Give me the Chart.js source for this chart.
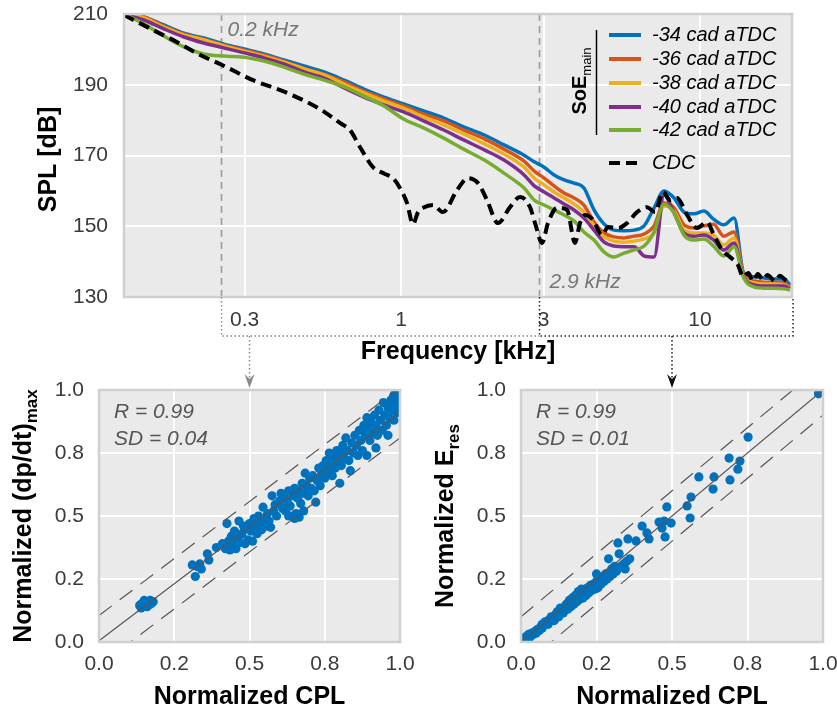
<!DOCTYPE html>
<html>
<head>
    <title>SPL spectra and correlations</title>
    <style>
        body { margin: 0; background: #fff; }
        #figure { position: relative; width: 837px; height: 712px; }
        #figure canvas { position: absolute; }
    </style>
</head>
<body>
<div id="figure">
    <canvas id="dpdtChart" width="420" height="352" style="left:0;top:360px"></canvas>
    <canvas id="eresChart" width="417" height="352" style="left:420px;top:360px"></canvas>
    <canvas id="splChart" width="837" height="395" style="left:0;top:0"></canvas>
</div>
<script src="https://cdn.jsdelivr.net/npm/chart.js"></script>
<script>
    // ---------- top panel: SPL spectra ----------
    // frequency grid [kHz] shared by the five SoE spectra
    var freqKHz = [0.1185, 0.138, 0.161, 0.188, 0.219, 0.256, 0.299, 0.348, 0.406, 0.474,
        0.553, 0.645, 0.752, 0.877, 1.02, 1.19, 1.39, 1.62, 1.9, 2.21,
        2.58, 2.79, 3.01, 3.25, 3.51, 3.79, 4.09, 4.42, 4.78, 5.16,
        5.57, 6.02, 6.5, 7.02, 7.58, 8.19, 8.84, 9.55, 10.3, 11.1,
        12.0, 13.0, 14.0, 15.2, 16.4, 17.7, 19.1, 20.0];

    var splSoE34 = [210.0, 209.2, 206.9, 204.6, 203.2, 201.5, 200.1, 198.7, 197.0, 195.3,
        193.6, 191.3, 188.8, 186.5, 184.6, 182.6, 180.6, 178.1, 175.8, 173.0,
        170.1, 168.2, 166.7, 164.5, 163.1, 162.2, 160.8, 154.6, 150.6, 148.9,
        148.7, 148.9, 150.1, 155.2, 160.0, 158.0, 154.0, 153.5, 154.3, 152.0,
        150.4, 152.3, 136.8, 135.7, 135.4, 135.1, 135.1, 133.4];
    var splSoE36 = [210.0, 209.2, 206.6, 204.3, 202.9, 201.2, 199.8, 198.4, 196.7, 194.7,
        193.0, 190.8, 188.2, 186.0, 184.0, 181.7, 179.8, 177.2, 174.7, 171.8,
        168.4, 165.6, 163.6, 161.4, 159.4, 158.0, 156.0, 151.2, 148.1, 147.0,
        146.7, 147.2, 147.8, 150.1, 156.6, 155.2, 150.4, 149.5, 150.1, 150.6,
        147.2, 148.4, 136.2, 134.5, 134.2, 134.2, 134.0, 132.8];
    var splSoE38 = [210.0, 208.9, 206.3, 204.1, 202.7, 201.0, 199.5, 198.1, 196.4, 194.5,
        192.8, 190.2, 187.7, 185.4, 183.4, 180.9, 178.6, 176.1, 173.3, 170.4,
        166.7, 163.6, 161.7, 159.7, 158.0, 156.3, 154.0, 150.1, 147.0, 145.8,
        145.5, 145.8, 146.4, 148.1, 155.7, 154.3, 148.9, 148.1, 148.1, 147.5,
        144.7, 146.7, 135.9, 134.0, 133.7, 133.7, 133.4, 132.5];
    var splSoE40 = [210.0, 208.3, 205.8, 203.5, 201.8, 200.4, 199.0, 197.6, 195.9, 193.6,
        191.9, 189.1, 186.5, 184.3, 182.3, 179.8, 177.2, 174.4, 171.6, 168.7,
        164.5, 161.4, 159.7, 158.0, 156.3, 154.6, 152.3, 148.9, 145.5, 144.4,
        144.2, 144.2, 141.6, 141.3, 158.8, 153.7, 148.1, 147.2, 147.5, 146.1,
        143.3, 145.3, 135.7, 133.4, 133.1, 133.1, 133.1, 132.3];
    var splSoE42 = [210.0, 207.2, 203.8, 200.7, 198.7, 198.1, 197.8, 196.7, 195.0, 193.0,
        191.3, 189.4, 186.8, 184.0, 180.3, 177.8, 174.9, 171.8, 168.7, 165.0,
        160.8, 157.4, 156.0, 154.6, 153.2, 151.5, 148.4, 146.1, 142.7, 141.3,
        142.4, 143.3, 144.4, 148.4, 156.3, 153.7, 147.5, 146.1, 146.4, 144.4,
        141.6, 144.2, 135.4, 132.8, 132.5, 132.5, 132.3, 132.0];

    // CDC reference spectrum has its own frequency points
    var cdcFreqKHz = [0.1185, 0.148, 0.178, 0.213, 0.252, 0.32, 0.416, 0.536, 0.625, 0.675,
        0.729, 0.806, 0.884, 0.94, 0.992, 1.047, 1.097, 1.14, 1.185, 1.279,
        1.382, 1.539, 1.675, 1.809, 1.939, 2.11, 2.315, 2.5, 2.7, 2.807,
        2.962, 3.101, 3.325, 3.592, 3.818, 3.968, 4.124, 4.387, 4.701, 4.924,
        5.318, 5.7, 6.157, 6.647, 7.071, 7.52, 7.938, 8.379, 9.047, 9.772,
        10.55, 11.05, 11.85, 12.6, 13.4, 13.93, 14.5, 15.04, 15.6, 16.24,
        16.8, 17.81, 18.5, 19.3, 20.0];
    var splCdc = [209.7, 205.5, 202.1, 198.4, 195.6, 191.3, 187.7, 183.1, 179.2, 177.2,
        172.4, 166.7, 164.8, 163.6, 160.8, 156.6, 150.6, 154.0, 155.2, 156.0,
        154.0, 160.2, 163.6, 162.2, 157.4, 150.9, 155.4, 158.3, 155.4, 150.9,
        145.3, 150.9, 155.2, 154.6, 145.3, 150.9, 153.2, 151.8, 147.5, 149.8,
        149.5, 150.9, 154.0, 155.4, 154.0, 159.7, 157.4, 158.0, 153.2, 149.5,
        151.2, 148.1, 143.3, 141.3, 139.0, 135.7, 136.8, 134.5, 136.5, 134.8,
        136.2, 134.5, 136.0, 134.8, 134.2];

    var soeLabels = ['-34 cad aTDC', '-36 cad aTDC', '-38 cad aTDC', '-40 cad aTDC', '-42 cad aTDC'];
    var soeColors = ['#0072BD', '#D95319', '#EDB120', '#7E2F8E', '#77AC30'];
    var splTicks = [130, 150, 170, 190, 210];
    var freqTicks = [0.3, 1, 3, 10];
    var markerFreqs = [0.25, 2.9];
    var markerLabels = ['0.2 kHz', '2.9 kHz'];

    // ---------- bottom panels: correlations ----------
    var normTickValues = [0, 0.25, 0.5, 0.75, 1];
    var normTickLabels = ['0.0', '0.2', '0.5', '0.8', '1.0'];

    var dpdtCpl = [0.135, 0.14, 0.145, 0.15, 0.155, 0.16, 0.165, 0.17, 0.175, 0.18, 0.15, 0.14, 0.16, 0.17,
        0.31, 0.32, 0.325, 0.335, 0.34, 0.36, 0.365, 0.39,
        0.41, 0.42, 0.425, 0.43, 0.435, 0.44, 0.445, 0.45, 0.455, 0.46, 0.465, 0.47, 0.475, 0.48, 0.485, 0.49, 0.495, 0.5,
        0.505, 0.51, 0.515, 0.52, 0.525, 0.53, 0.535, 0.54, 0.545, 0.55, 0.555, 0.56, 0.565, 0.57, 0.575, 0.58, 0.585, 0.59,
        0.6, 0.605, 0.61, 0.615, 0.62, 0.625, 0.63, 0.63, 0.635, 0.64, 0.645, 0.65, 0.65, 0.655, 0.66, 0.665, 0.665, 0.67, 0.675, 0.68,
        0.68, 0.685, 0.69, 0.695, 0.7, 0.705, 0.71, 0.715, 0.72, 0.725, 0.73, 0.735, 0.74, 0.745, 0.75, 0.755, 0.76, 0.765, 0.77, 0.775,
        0.78, 0.785, 0.79, 0.795, 0.8, 0.8, 0.805, 0.81, 0.815, 0.82, 0.825, 0.83, 0.835, 0.84, 0.845, 0.85, 0.855, 0.86, 0.865, 0.87,
        0.875, 0.88, 0.885, 0.89, 0.89, 0.895, 0.9, 0.905, 0.91, 0.915, 0.92, 0.92, 0.925, 0.93, 0.935, 0.94, 0.945, 0.95, 0.955, 0.96,
        0.96, 0.965, 0.97, 0.975, 0.98, 0.98, 0.985, 0.99, 0.99, 0.995, 0.995];
    var dpdtNorm = [0.145, 0.15, 0.14, 0.155, 0.145, 0.15, 0.16, 0.15, 0.155, 0.16, 0.165, 0.135, 0.14, 0.165,
        0.306, 0.26, 0.3, 0.31, 0.29, 0.35, 0.325, 0.375,
        0.39, 0.37, 0.47, 0.4, 0.365, 0.42, 0.385, 0.44, 0.37, 0.41, 0.48, 0.395, 0.43, 0.46, 0.39, 0.45, 0.405, 0.47,
        0.44, 0.4, 0.49, 0.46, 0.43, 0.5, 0.47, 0.445, 0.535, 0.49, 0.46, 0.51, 0.48, 0.455, 0.58, 0.52, 0.545, 0.5,
        0.56, 0.59, 0.53, 0.575, 0.52, 0.56, 0.6, 0.5, 0.54, 0.5, 0.58, 0.61, 0.49, 0.51, 0.57, 0.6, 0.495, 0.55, 0.63, 0.59,
        0.52, 0.67, 0.62, 0.58, 0.65, 0.61, 0.66, 0.6, 0.555, 0.64, 0.69, 0.62, 0.67, 0.7, 0.65, 0.72, 0.68, 0.75, 0.7, 0.66,
        0.73, 0.69, 0.76, 0.72, 0.63, 0.75, 0.7, 0.78, 0.73, 0.81, 0.76, 0.72, 0.68, 0.79, 0.75, 0.82, 0.78, 0.74, 0.84, 0.8,
        0.76, 0.86, 0.82, 0.74, 0.89, 0.84, 0.8, 0.87, 0.83, 0.9, 0.77, 0.86, 0.82, 0.92, 0.88, 0.84, 0.95, 0.9, 0.86, 0.82,
        0.93, 0.89, 0.96, 0.92, 0.88, 0.98, 0.94, 0.91, 0.97, 0.95, 0.99];
    var dpdtFit = [0.905, 0.005];           // slope, intercept
    var dpdtStats = ['R = 0.99', 'SD = 0.04'];

    var eresCpl = [0.01, 0.015, 0.02, 0.025, 0.03, 0.035, 0.04, 0.045, 0.05, 0.05,
        0.055, 0.06, 0.065, 0.07, 0.07, 0.075, 0.08, 0.08, 0.085, 0.09,
        0.09, 0.095, 0.1, 0.1, 0.105, 0.11, 0.11, 0.115, 0.12, 0.12,
        0.125, 0.13, 0.13, 0.135, 0.14, 0.14, 0.145, 0.15, 0.15, 0.155,
        0.16, 0.16, 0.165, 0.17, 0.17, 0.175, 0.18, 0.18, 0.185, 0.19,
        0.19, 0.195, 0.2, 0.2, 0.205, 0.21, 0.215, 0.22, 0.225, 0.23,
        0.235, 0.24, 0.245, 0.25, 0.25, 0.255, 0.26, 0.265, 0.27, 0.275,
        0.28, 0.285, 0.29, 0.29, 0.295, 0.3, 0.305, 0.31, 0.315, 0.32,
        0.325, 0.33, 0.34, 0.345, 0.35, 0.36,
        0.321, 0.354, 0.381, 0.401, 0.417, 0.424, 0.457, 0.467, 0.474, 0.477, 0.483, 0.497,
        0.55, 0.56, 0.563, 0.589, 0.636, 0.639, 0.689, 0.692, 0.718, 0.725, 0.752, 0.985];
    var eresNorm = [0.01, 0.02, 0.015, 0.03, 0.02, 0.035, 0.03, 0.04, 0.045, 0.035,
        0.05, 0.045, 0.06, 0.055, 0.07, 0.065, 0.07, 0.08, 0.075, 0.085,
        0.07, 0.09, 0.085, 0.1, 0.095, 0.1, 0.085, 0.11, 0.105, 0.12,
        0.1, 0.12, 0.135, 0.125, 0.13, 0.115, 0.14, 0.135, 0.15, 0.13,
        0.15, 0.165, 0.14, 0.16, 0.175, 0.15, 0.17, 0.185, 0.16, 0.18,
        0.2, 0.17, 0.19, 0.21, 0.175, 0.2, 0.185, 0.215, 0.195, 0.225,
        0.205, 0.23, 0.21, 0.24, 0.27, 0.215, 0.25, 0.23, 0.26, 0.24,
        0.27, 0.25, 0.275, 0.33, 0.26, 0.29, 0.27, 0.3, 0.28, 0.29,
        0.35, 0.3, 0.31, 0.29, 0.32, 0.33,
        0.393, 0.409, 0.401, 0.46, 0.433, 0.409, 0.476, 0.452, 0.48, 0.417, 0.536, 0.472,
        0.54, 0.492, 0.575, 0.655, 0.607, 0.655, 0.73, 0.643, 0.686, 0.718, 0.813, 0.985];
    var eresFit = [1, 0];
    var eresStats = ['R = 0.99', 'SD = 0.01'];
    var bandHalfWidth = 0.1;

    // ---------- helpers ----------
    var FONT = "'Liberation Sans', Arial, sans-serif";
    var TICK_FONT = { family: FONT, size: 21 };
    var TICK_COLOR = '#3a3a3a';

    function pairs(xs, ys) {
        return xs.map(function (x, i) { return { x: x, y: ys[i] }; });
    }

    function fitLine(fit, shift) {
        return [0, 1].map(function (x) { return { x: x, y: fit[0] * x + fit[1] + shift }; });
    }

    // grey plot background and light frame
    var plotFrame = {
        id: 'plotFrame',
        beforeDraw: function (chart) {
            var a = chart.chartArea, ctx = chart.ctx;
            ctx.save();
            ctx.fillStyle = '#eaeaea';
            ctx.fillRect(a.left, a.top, a.right - a.left, a.bottom - a.top);
            ctx.restore();
        },
        afterDatasetsDraw: function (chart) {
            var a = chart.chartArea, ctx = chart.ctx;
            ctx.save();
            ctx.strokeStyle = '#d0d0d0';
            ctx.lineWidth = 2.5;
            ctx.strokeRect(a.left, a.top, a.right - a.left, a.bottom - a.top);
            ctx.restore();
        }
    };

    // rotated title with optional subscript, centred on (cx, cy)
    function verticalTitle(ctx, cx, cy, main, sub, size, subSize, subBold) {
        var mainFont = 'bold ' + size + 'px ' + FONT;
        var subFont = (subBold ? 'bold ' : '') + subSize + 'px ' + FONT;
        ctx.save();
        ctx.translate(cx, cy);
        ctx.rotate(-Math.PI / 2);
        ctx.fillStyle = '#000';
        ctx.textAlign = 'left';
        ctx.textBaseline = 'alphabetic';
        ctx.font = mainFont;
        var w1 = ctx.measureText(main).width;
        ctx.font = subFont;
        var w2 = sub ? ctx.measureText(sub).width : 0;
        var x0 = -(w1 + w2) / 2, base = size * 0.36;
        ctx.font = mainFont;
        ctx.fillText(main, x0, base);
        if (sub) {
            ctx.font = subFont;
            ctx.fillText(sub, x0 + w1, base + size * 0.22);
        }
        ctx.restore();
    }

    function fixedAxis(size, horizontal) {
        return function (scale) {
            if (horizontal) {
                scale.height = size;
                scale.paddingLeft = 0;
                scale.paddingRight = 0;
            } else {
                scale.width = size;
                scale.paddingTop = 0;
                scale.paddingBottom = 0;
            }
        };
    }

    // ---------- bottom charts ----------
    function scatterExtras(stats, yTitle, ySub) {
        return {
            id: 'scatterExtras',
            afterDraw: function (chart) {
                var ctx = chart.ctx, a = chart.chartArea;
                ctx.save();
                ctx.font = 'italic 21px ' + FONT;
                ctx.fillStyle = '#555';
                ctx.textAlign = 'left';
                ctx.textBaseline = 'middle';
                ctx.fillText(stats[0], a.left + 15, a.top + 22);
                ctx.fillText(stats[1], a.left + 15, a.top + 49);
                ctx.font = 'bold 25px ' + FONT;
                ctx.fillStyle = '#000';
                ctx.textAlign = 'center';
                ctx.fillText('Normalized CPL', (a.left + a.right) / 2, a.bottom + 55);
                ctx.restore();
                verticalTitle(ctx, a.left - 77, (a.top + a.bottom) / 2, yTitle, ySub, 25, 17, true);
            }
        };
    }

    function normAxis(size, horizontal, padding) {
        return {
            type: 'linear', min: 0, max: 1,
            afterBuildTicks: function (scale) {
                scale.ticks = normTickValues.map(function (v) { return { value: v }; });
            },
            afterFit: fixedAxis(size, horizontal),
            grid: { color: '#fff', lineWidth: 2, drawTicks: false },
            border: { display: false },
            ticks: {
                font: TICK_FONT, color: TICK_COLOR, padding: padding,
                maxRotation: 0, autoSkip: false,
                callback: function (v, i) { return normTickLabels[i]; }
            }
        };
    }

    function makeScatter(id, cpl, vals, fit, stats, yTitle, ySub, yAxisWidth) {
        var lineStyle = { type: 'line', borderColor: '#555', borderWidth: 1.2, pointRadius: 0, order: 0 };
        return new Chart(document.getElementById(id), {
            type: 'scatter',
            data: {
                datasets: [
                    Object.assign({ data: fitLine(fit, 0) }, lineStyle),
                    Object.assign({ data: fitLine(fit, bandHalfWidth), borderDash: [16, 10] }, lineStyle),
                    Object.assign({ data: fitLine(fit, -bandHalfWidth), borderDash: [16, 10] }, lineStyle),
                    {
                        data: pairs(cpl, vals),
                        backgroundColor: '#0072BD', borderColor: '#0072BD',
                        pointRadius: 4.6, borderWidth: 0, order: 1
                    }
                ]
            },
            options: {
                responsive: false, animation: false, devicePixelRatio: 1,
                layout: { padding: { top: 30, right: id === 'eresChart' ? 14 : 20, left: 0, bottom: 0 } },
                plugins: { legend: { display: false }, tooltip: { enabled: false } },
                scales: {
                    x: normAxis(70, true, 10),
                    y: normAxis(yAxisWidth, false, 15)
                }
            },
            plugins: [plotFrame, scatterExtras(stats, yTitle, ySub)]
        });
    }

    var dpdtChart = makeScatter('dpdtChart', dpdtCpl, dpdtNorm, dpdtFit, dpdtStats,
        'Normalized (dp/dt)', 'max', 99);
    var eresChart = makeScatter('eresChart', eresCpl, eresNorm, eresFit, eresStats,
        'Normalized E', 'res', 101);

    // ---------- top chart ----------
    function arrowTarget(chart) {
        var c = chart.canvas;
        return {
            x: c.offsetLeft + chart.scales.x.getPixelForValue(0.5),
            y: c.offsetTop + chart.chartArea.top - 2
        };
    }

    function dottedPath(ctx, pts, color) {
        ctx.save();
        ctx.strokeStyle = color;
        ctx.lineWidth = 1.5;
        ctx.setLineDash([1.5, 2.5]);
        ctx.beginPath();
        pts.forEach(function (p, i) {
            if (i === 0) ctx.moveTo(p[0], p[1]); else ctx.lineTo(p[0], p[1]);
        });
        ctx.stroke();
        ctx.restore();
    }

    function arrowHead(ctx, x, tipY, color) {
        ctx.save();
        ctx.fillStyle = color;
        ctx.beginPath();
        ctx.moveTo(x, tipY);
        ctx.lineTo(x - 5, tipY - 14);
        ctx.lineTo(x, tipY - 9);
        ctx.lineTo(x + 5, tipY - 14);
        ctx.closePath();
        ctx.fill();
        ctx.restore();
    }

    var spectrumExtras = {
        id: 'spectrumExtras',
        beforeDatasetsDraw: function (chart) {
            var ctx = chart.ctx, a = chart.chartArea, x = chart.scales.x;
            ctx.save();
            ctx.strokeStyle = '#9b9b9b';
            ctx.lineWidth = 1.6;
            ctx.setLineDash([7, 5]);
            markerFreqs.forEach(function (f) {
                var px = Math.round(x.getPixelForValue(f)) + 0.5;
                ctx.beginPath();
                ctx.moveTo(px, a.top);
                ctx.lineTo(px, a.bottom);
                ctx.stroke();
            });
            ctx.restore();
        },
        afterDraw: function (chart) {
            var ctx = chart.ctx, a = chart.chartArea, x = chart.scales.x;
            var m0 = Math.round(x.getPixelForValue(markerFreqs[0])) + 0.5;
            var m1 = Math.round(x.getPixelForValue(markerFreqs[1])) + 0.5;

            ctx.save();
            // marker labels
            ctx.font = 'italic 21px ' + FONT;
            ctx.fillStyle = '#777';
            ctx.textAlign = 'left';
            ctx.textBaseline = 'middle';
            ctx.fillText(markerLabels[0], m0 + 6, a.top + 16);
            ctx.fillText(markerLabels[1], m1 + 10, a.bottom - 15);

            // legend
            var rowY = [35, 59, 83, 107, 130, 163];
            ctx.font = 'italic 20px ' + FONT;
            chart.data.datasets.forEach(function (ds, i) {
                var y = rowY[i];
                ctx.strokeStyle = ds.borderColor;
                ctx.lineWidth = 4;
                ctx.setLineDash(ds.borderDash || []);
                ctx.beginPath();
                ctx.moveTo(609, y);
                ctx.lineTo(641, y);
                ctx.stroke();
                ctx.fillStyle = '#000';
                ctx.fillText(ds.label, 652, y);
            });
            ctx.setLineDash([]);
            ctx.strokeStyle = '#000';
            ctx.lineWidth = 1.5;
            ctx.beginPath();
            ctx.moveTo(596.5, 30);
            ctx.lineTo(596.5, 135);
            ctx.stroke();
            ctx.restore();
            verticalTitle(ctx, 579, 81, 'SoE', 'main', 20, 13, false);

            // axis titles
            ctx.save();
            ctx.font = 'bold 25px ' + FONT;
            ctx.fillStyle = '#000';
            ctx.textAlign = 'center';
            ctx.textBaseline = 'middle';
            ctx.fillText('Frequency [kHz]', (a.left + a.right) / 2, a.bottom + 55);
            ctx.restore();
            verticalTitle(ctx, a.left - 77, (a.top + a.bottom) / 2 + 4, 'SPL [dB]', '', 25, 17, true);

            // connectors to the correlation panels
            var yH = a.bottom + 39;
            var tl = arrowTarget(dpdtChart), tr = arrowTarget(eresChart);
            dottedPath(ctx, [[m0, a.bottom], [m0, yH], [m1, yH]], '#8a8a8a');
            dottedPath(ctx, [[tl.x, yH], [tl.x, tl.y - 8]], '#8a8a8a');
            arrowHead(ctx, tl.x, tl.y, '#8a8a8a');
            dottedPath(ctx, [[m1, a.bottom], [m1, yH], [a.right + 1, yH], [a.right + 1, a.bottom]], '#222');
            dottedPath(ctx, [[tr.x, yH], [tr.x, tr.y - 8]], '#222');
            arrowHead(ctx, tr.x, tr.y, '#111');
        }
    };

    var soeSeries = [splSoE34, splSoE36, splSoE38, splSoE40, splSoE42];
    var spectrumDatasets = soeSeries.map(function (vals, i) {
        return {
            label: soeLabels[i],
            data: pairs(freqKHz, vals),
            borderColor: soeColors[i],
            borderWidth: 3.5,
            cubicInterpolationMode: 'monotone',
            order: soeSeries.length - i
        };
    });
    spectrumDatasets.push({
        label: 'CDC',
        data: pairs(cdcFreqKHz, splCdc),
        borderColor: '#000',
        borderWidth: 4,
        borderDash: [11, 6],
        cubicInterpolationMode: 'monotone',
        order: 0
    });

    var splChart = new Chart(document.getElementById('splChart'), {
        type: 'line',
        data: { datasets: spectrumDatasets },
        options: {
            responsive: false, animation: false, devicePixelRatio: 1,
            layout: { padding: { top: 14, right: 45, left: 0, bottom: 0 } },
            elements: { point: { radius: 0 } },
            plugins: { legend: { display: false }, tooltip: { enabled: false } },
            scales: {
                x: {
                    type: 'logarithmic', min: 0.1185, max: 20.3,
                    afterBuildTicks: function (scale) {
                        scale.ticks = freqTicks.map(function (v) { return { value: v }; });
                    },
                    afterFit: fixedAxis(98, true),
                    grid: { color: '#fff', lineWidth: 2, drawTicks: false },
                    border: { display: false },
                    ticks: {
                        font: TICK_FONT, color: TICK_COLOR, padding: 11,
                        maxRotation: 0, autoSkip: false,
                        callback: function (v) { return String(v); }
                    }
                },
                y: {
                    type: 'linear', min: 130, max: 210,
                    afterBuildTicks: function (scale) {
                        scale.ticks = splTicks.map(function (v) { return { value: v }; });
                    },
                    afterFit: fixedAxis(124, false),
                    grid: { color: '#fff', lineWidth: 2, drawTicks: false },
                    border: { display: false },
                    ticks: { font: TICK_FONT, color: TICK_COLOR, padding: 16 }
                }
            }
        },
        plugins: [plotFrame, spectrumExtras]
    });
</script>
</body>
</html>
